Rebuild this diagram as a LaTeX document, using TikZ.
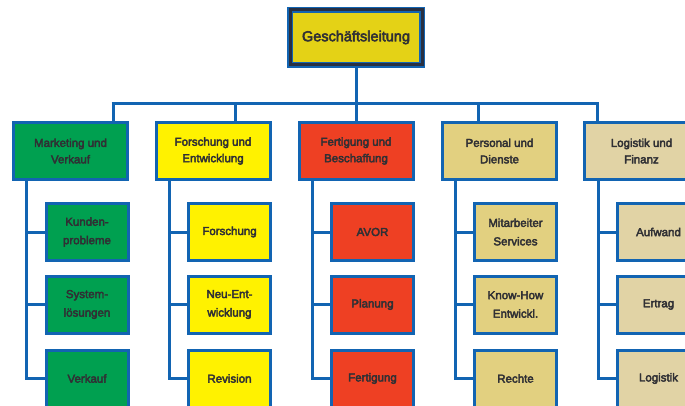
\documentclass[tikz,border=0pt]{standalone}
\usepackage{fontspec}
\newfontfamily\lblfont[FakeBold=3.5]{Liberation Sans}
\definecolor{lineblue}{RGB}{18,100,178}
\definecolor{navy}{RGB}{40,48,66}
\definecolor{topyellow}{RGB}{228,210,22}
\definecolor{mgreen}{RGB}{0,160,80}
\definecolor{fyellow}{RGB}{255,242,0}
\definecolor{fred}{RGB}{238,64,35}
\definecolor{pkhaki}{RGB}{226,208,128}
\definecolor{lbeige}{RGB}{225,211,165}
\definecolor{textgray}{RGB}{48,48,52}
\begin{document}
\begin{tikzpicture}[x=1pt,y=-1pt,
  conn/.style={draw=lineblue, line width=3pt},
  box/.style={draw=lineblue, line width=3pt, text=textgray, align=center, inner sep=0pt},
  lvl/.style={box, minimum width=114pt, minimum height=57pt, font=\lblfont\fontsize{11.5}{16.5}\selectfont},
  sub/.style={box, minimum width=82pt, minimum height=57pt, font=\lblfont\fontsize{11.5}{18.5}\selectfont},
  topbox/.style={fill=topyellow, draw=lineblue, line width=1.5pt, double=navy, double distance=3pt,
     minimum width=132pt, minimum height=55pt, inner sep=0pt, text=textgray,
     font=\lblfont\fontsize{14.5}{17}\selectfont}
]
\useasboundingbox (0,0) rectangle (685,406);
\clip (0,0) rectangle (685,406);

% top
\node[topbox] (top) at (356,37.5) {Geschäftsleitung};

% level 1
\node[lvl, fill=mgreen]  (mkt) at (70.5,151) {Marketing und\\Verkauf};
\node[lvl, fill=fyellow] (for) at (213,151)  {Forschung und\\Entwicklung};
\node[lvl, fill=fred]    (fer) at (356,151)  {Fertigung und\\Beschaffung};
\node[lvl, fill=pkhaki]  (per) at (499.5,151) {Personal und\\Dienste};
\node[lvl, fill=lbeige]  (log) at (641.5,151) {Logistik und\\Finanz};

% sub boxes
\node[sub, fill=mgreen] (m1) at (87,232)   {Kunden-\\probleme};
\node[sub, fill=mgreen] (m2) at (87,304.5) {System-\\lösungen};
\node[sub, fill=mgreen] (m3) at (87,378.5) {Verkauf};

\node[sub, fill=fyellow] (f1) at (229.5,232)   {Forschung};
\node[sub, fill=fyellow] (f2) at (229.5,304.5) {Neu-Ent-\\wicklung};
\node[sub, fill=fyellow] (f3) at (229.5,378.5) {Revision};

\node[sub, fill=fred] (b1) at (372.5,232)   {AVOR};
\node[sub, fill=fred] (b2) at (372.5,304.5) {Planung};
\node[sub, fill=fred] (b3) at (372.5,378.5) {Fertigung};

\node[sub, fill=pkhaki] (p1) at (515.5,232)   {Mitarbeiter\\Services};
\node[sub, fill=pkhaki] (p2) at (515.5,304.5) {Know-How\\Entwickl.};
\node[sub, fill=pkhaki] (p3) at (515.5,378.5) {Rechte};

\node[sub, fill=lbeige] (l1) at (658.5,232)   {Aufwand};
\node[sub, fill=lbeige] (l2) at (658.5,304.5) {Ertrag};
\node[sub, fill=lbeige] (l3) at (658.5,378.5) {Logistik};

% bus
\coordinate (d1) at (113,104);
\coordinate (d2) at (235,104);
\coordinate (d3) at (356,104);
\coordinate (d4) at (478,104);
\coordinate (d5) at (597,104);
\draw[conn] (top.south) -- (top.south |- d1);
\draw[conn] ([xshift=-1.5pt]d1) -- ([xshift=1.5pt]d5);
\draw[conn] (d1) -- (d1 |- mkt.north);
\draw[conn] (d2) -- (d2 |- for.north);
\draw[conn] (d3) -- (d3 |- fer.north);
\draw[conn] (d4) -- (d4 |- per.north);
\draw[conn] (d5) -- (d5 |- log.north);

% column spines
\coordinate (v1) at (26,0);
\coordinate (v2) at (169,0);
\coordinate (v3) at (312,0);
\coordinate (v4) at (455,0);
\coordinate (v5) at (598,0);
\draw[conn] (v1 |- mkt.south) |- (m3.west);
\draw[conn] (v1 |- m1.west) -- (m1.west);
\draw[conn] (v1 |- m2.west) -- (m2.west);
\draw[conn] (v2 |- for.south) |- (f3.west);
\draw[conn] (v2 |- f1.west) -- (f1.west);
\draw[conn] (v2 |- f2.west) -- (f2.west);
\draw[conn] (v3 |- fer.south) |- (b3.west);
\draw[conn] (v3 |- b1.west) -- (b1.west);
\draw[conn] (v3 |- b2.west) -- (b2.west);
\draw[conn] (v4 |- per.south) |- (p3.west);
\draw[conn] (v4 |- p1.west) -- (p1.west);
\draw[conn] (v4 |- p2.west) -- (p2.west);
\draw[conn] (v5 |- log.south) |- (l3.west);
\draw[conn] (v5 |- l1.west) -- (l1.west);
\draw[conn] (v5 |- l2.west) -- (l2.west);
\end{tikzpicture}
\end{document}
